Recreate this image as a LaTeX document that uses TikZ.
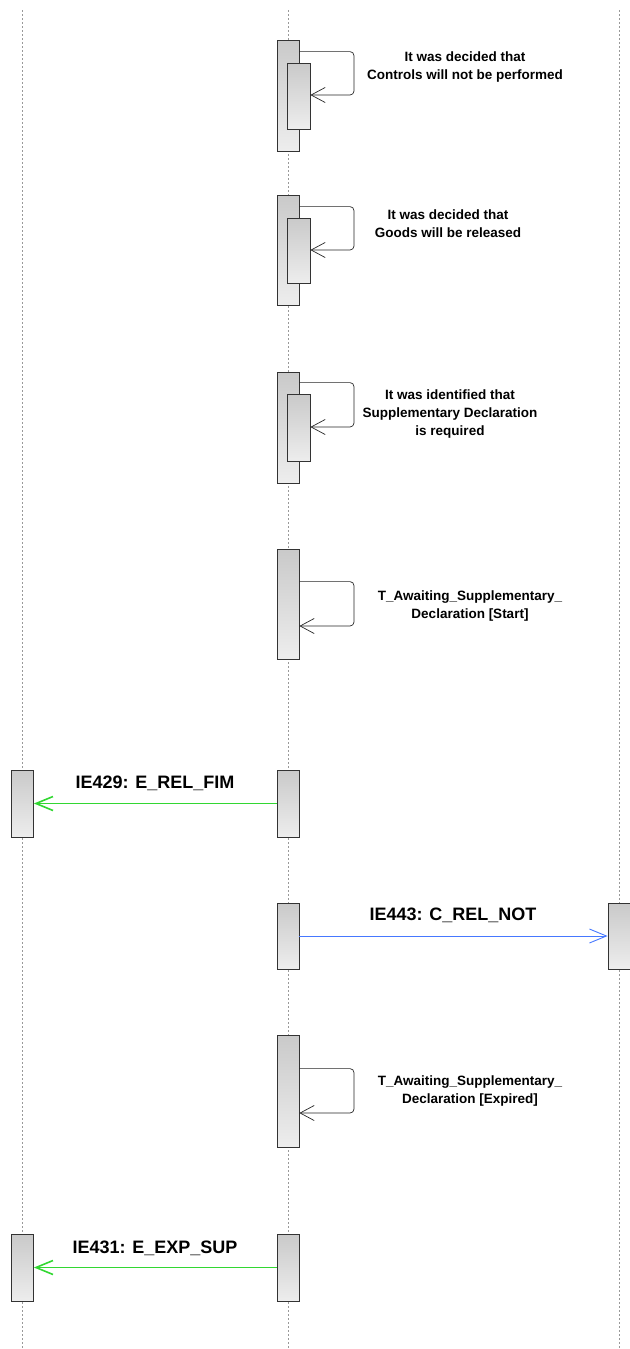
\documentclass[tikz,border=0pt]{standalone}
\usepackage{fontspec}
\setmainfont{Liberation Sans}
\usetikzlibrary{arrows.meta}
\definecolor{msggreen}{RGB}{50,215,50}
\definecolor{msgblue}{RGB}{70,120,255}

\begin{document}
\begin{tikzpicture}[
    x=1pt, y=-1pt,
    lifeline/.style={draw=gray!80, dash pattern=on 2pt off 2pt, line width=0.8pt}, % dotted lifelines
    actbox/.style={draw=black!80, line width=0.8pt, top color=gray!42, bottom color=gray!14,
                   minimum width=22pt, inner sep=0pt}, % activation bars
    selfmsg/.style={-{Straight Barb[length=14pt, width=15pt]}, rounded corners=4pt,
                    draw=black!85, line width=0.7pt}, % self calls
    note/.style={font=\fontsize{13.5}{18}\selectfont\bfseries, align=center},
    msglabel/.style={font=\fontsize{18}{20}\selectfont\bfseries},
    greenmsg/.style={-{Straight Barb[length=17pt, width=14pt]}, draw=msggreen, line width=1.6pt},
    bluemsg/.style={-{Straight Barb[length=17pt, width=14pt]}, draw=msgblue, line width=0.9pt}
]
    \useasboundingbox (0,0) rectangle (629,1349);

    % Lifelines
    \draw[lifeline] (22,10) -- (22,1349);
    \draw[lifeline] (288,10) -- (288,1349);
    \draw[lifeline] (619,10) -- (619,1349);

    % Controls not performed
    \node[actbox, minimum height=111pt] (act1) at (288,95.5) {};
    \node[actbox, minimum height=66pt, minimum width=23pt] (sub1) at (298.5,96) {};
    \draw[selfmsg] ([yshift=-12pt]act1.north east) -| (354,95) -- (sub1.east |- 0,95);
    \node[note] (txt1) at (465,67) {It was decided that\\Controls will not be performed};

    % Goods released
    \node[actbox, minimum height=110pt] (act2) at (288,250) {};
    \node[actbox, minimum height=65pt, minimum width=23pt] (sub2) at (298.5,250.5) {};
    \draw[selfmsg] ([yshift=-12pt]act2.north east) -| (354,250) -- (sub2.east |- 0,250);
    \node[note] (txt2) at (448,224) {It was decided that\\Goods will be released};

    % Supplementary declaration required
    \node[actbox, minimum height=111pt] (act3) at (288,427.5) {};
    \node[actbox, minimum height=67pt, minimum width=23pt] (sub3) at (298.5,427.5) {};
    \draw[selfmsg] ([yshift=-11pt]act3.north east) -| (354,427) -- (sub3.east |- 0,427);
    \node[note] (txt3) at (450,414) {It was identified that\\Supplementary Declaration\\is required};

    % Timer start
    \node[actbox, minimum height=110pt] (act4) at (288,604) {};
    \draw[selfmsg] ([yshift=-33pt]act4.north east) -| (354,626) -- (act4.east |- 0,626);
    \node[note] (txt4) at (470,606) {T\_Awaiting\_Supplementary\_\\Declaration [Start]};

    % IE429
    \node[actbox, minimum height=67pt] (trader5) at (22.5,803.5) {};
    \node[actbox, minimum height=67pt] (act5) at (288,803.5) {};
    \draw[greenmsg] (act5.west) -- (trader5.east);
    \node[msglabel] (lbl5) at (155,783) {IE429: E\_REL\_FIM};

    % IE443
    \node[actbox, minimum height=66pt] (act6) at (288,936) {};
    \node[actbox, minimum height=66pt] (office6) at (619,936) {};
    \draw[bluemsg] (act6.east) -- (office6.west);
    \node[msglabel] (lbl6) at (453,915) {IE443: C\_REL\_NOT};

    % Timer expired
    \node[actbox, minimum height=112pt] (act7) at (288,1091) {};
    \draw[selfmsg] ([yshift=-34pt]act7.north east) -| (354,1113) -- (act7.east |- 0,1113);
    \node[note] (txt7) at (470,1091) {T\_Awaiting\_Supplementary\_\\Declaration [Expired]};

    % IE431
    \node[actbox, minimum height=67pt] (trader8) at (22.5,1267.5) {};
    \node[actbox, minimum height=67pt] (act8) at (288,1267.5) {};
    \draw[greenmsg] (act8.west) -- (trader8.east);
    \node[msglabel] (lbl8) at (155,1248) {IE431: E\_EXP\_SUP};

\end{tikzpicture}
\end{document}
